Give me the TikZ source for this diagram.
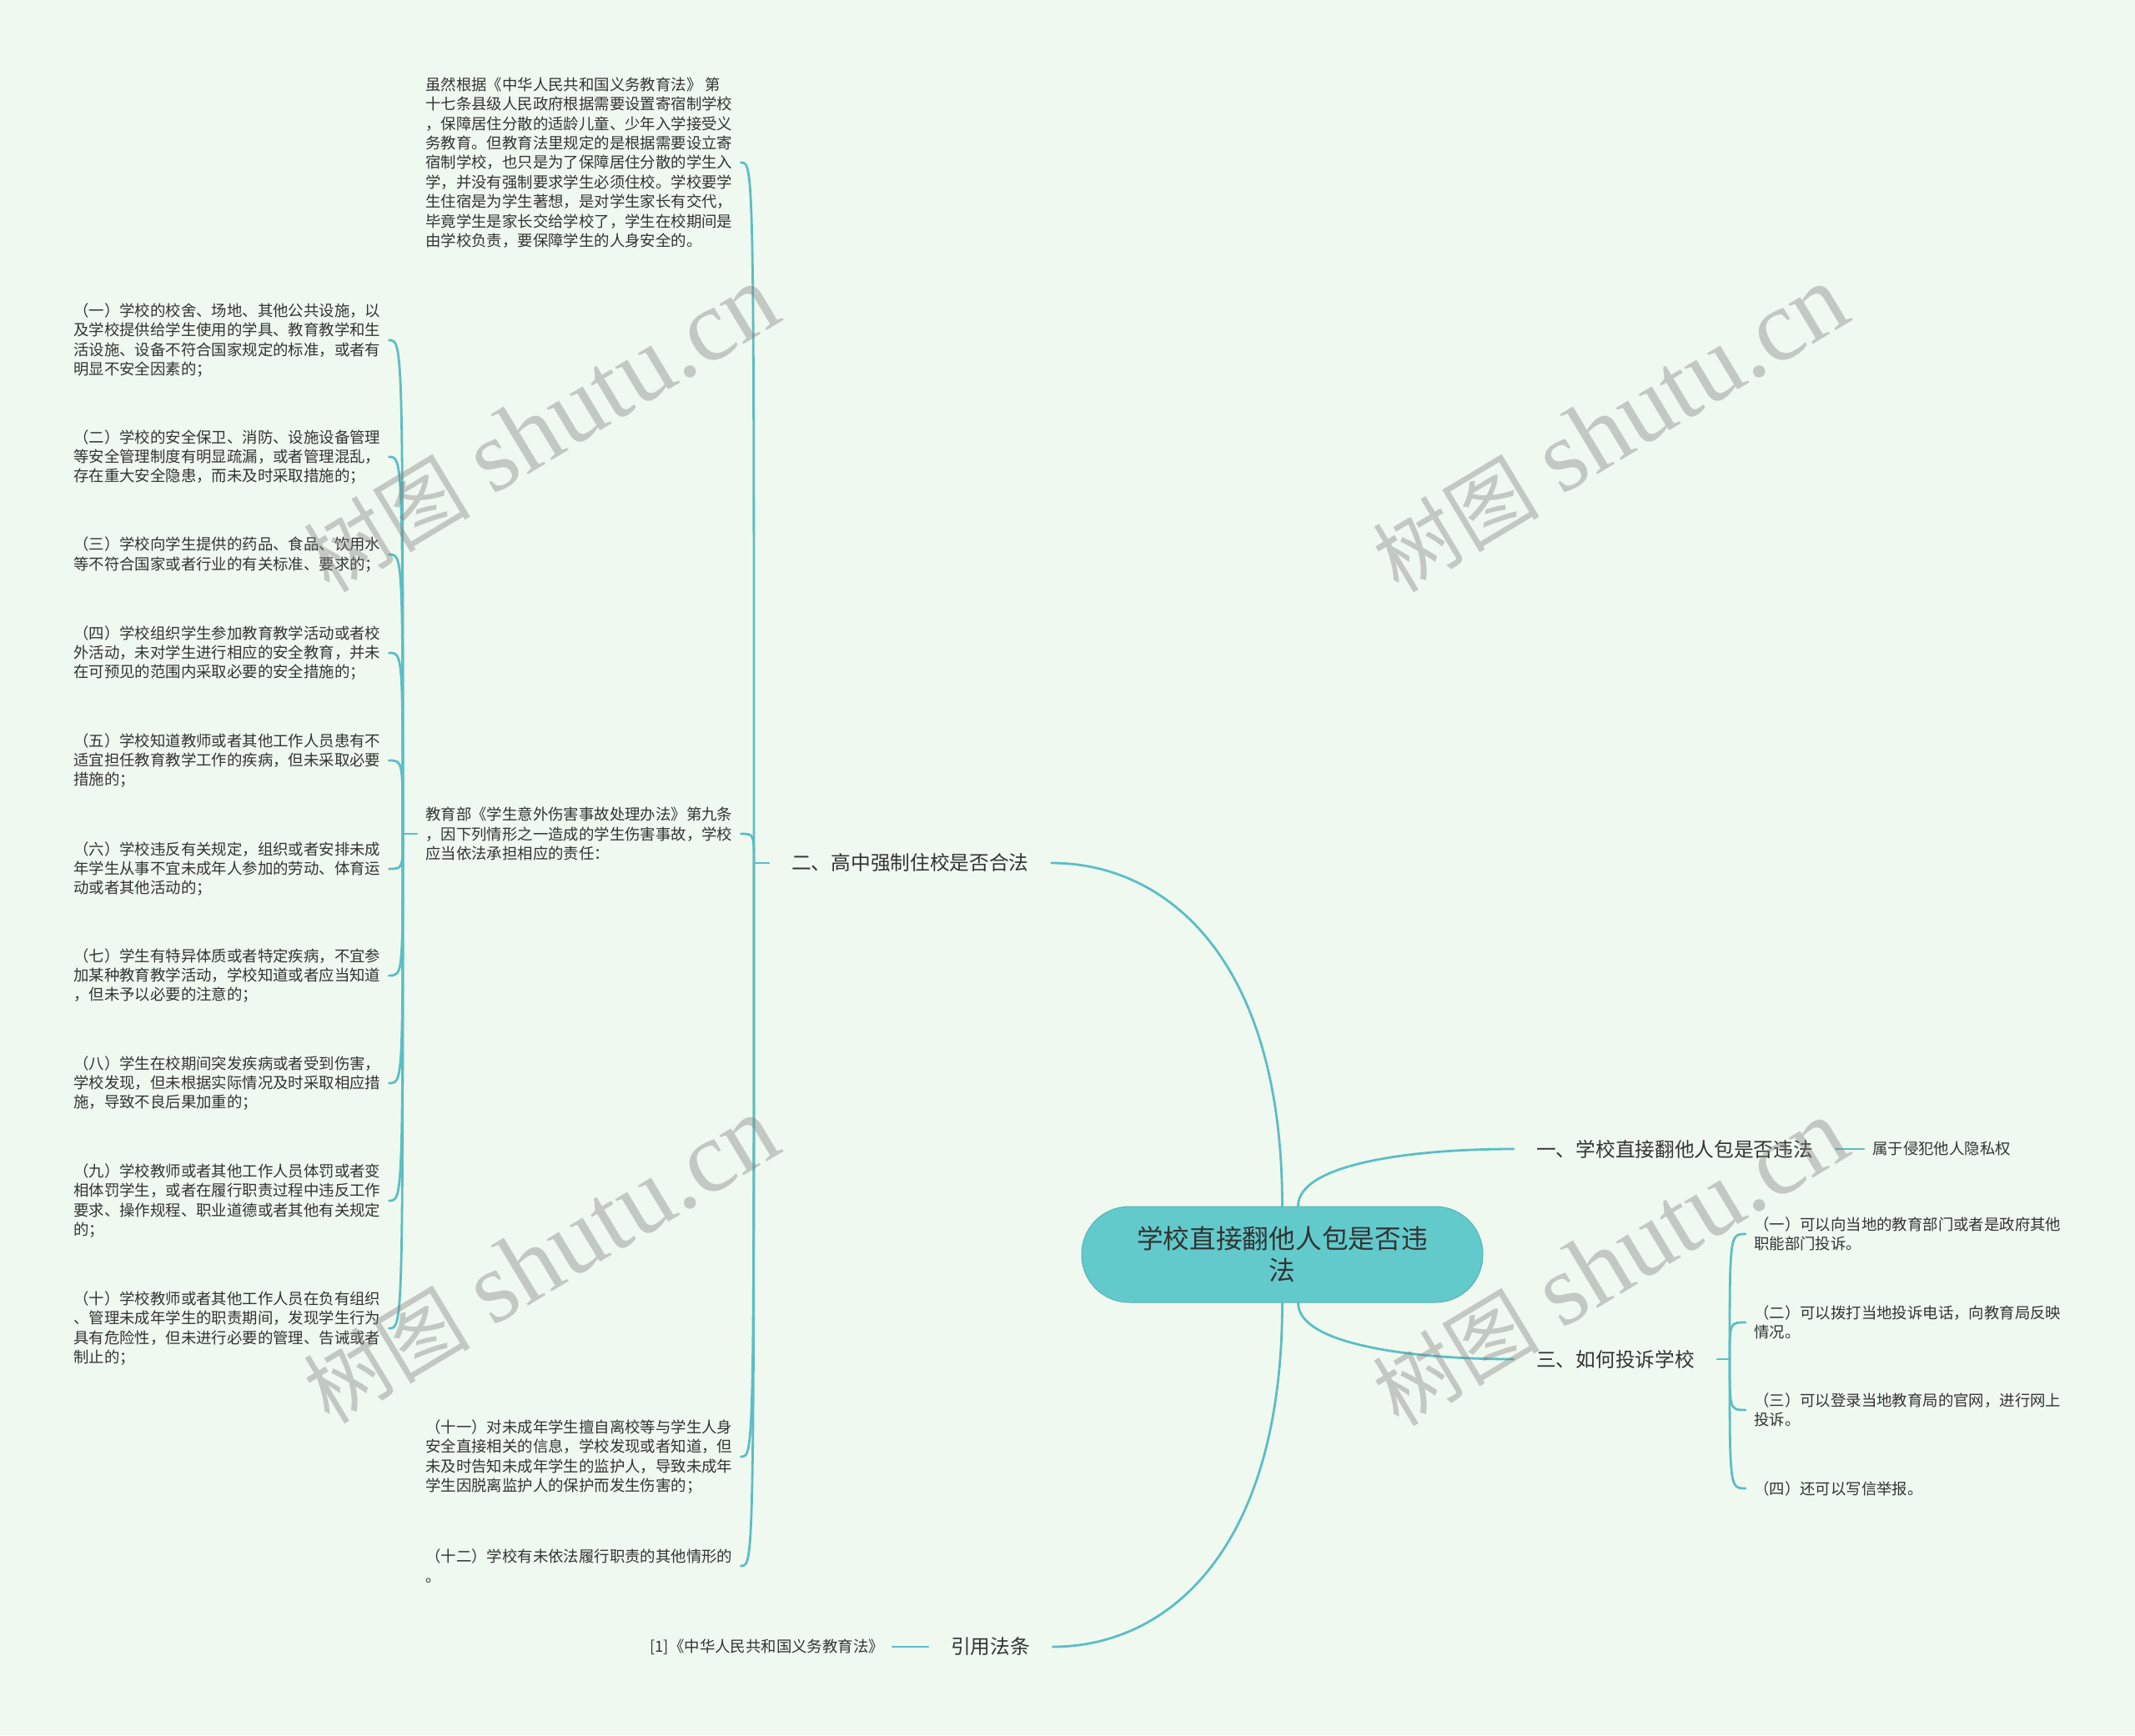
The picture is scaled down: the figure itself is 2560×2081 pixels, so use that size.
\documentclass[tikz,border=0pt]{standalone}
\usepackage{fontspec}
\setmainfont{Noto Sans CJK SC}
\newfontfamily\wmfont{Liberation Serif}
\usetikzlibrary{calc}
\definecolor{bgc}{RGB}{240,249,240}
\definecolor{lnc}{RGB}{91,190,196}
\definecolor{rootc}{RGB}{99,202,204}
\definecolor{txc}{RGB}{51,51,51}
\newcommand{\wmtext}{{\fontsize{100pt}{100pt}\selectfont 树图}\hspace{28pt}{\wmfont\fontsize{122pt}{122pt}\selectfont shutu.cn}}
\begin{document}
\begin{tikzpicture}[x=1pt,y=-1pt,
  conn/.style={draw=lnc,line width=2.8pt,line cap=round},
  curveto/.style={to path={.. controls ($(\tikztostart)!0.72!(\tikztostart|-\tikztotarget)$) and ($(\tikztotarget)!0.5!(\tikztotarget-|\tikztostart)$) .. (\tikztotarget)}},
  brk/.style={to path={.. controls (\tikztostart|-\tikztotarget) .. (\tikztotarget)}},
  leaf/.style={inner xsep=10pt,inner ysep=0pt,align=left,text=txc,font=\fontsize{18.4pt}{23.4pt}\selectfont},
  branch/.style={inner xsep=27pt,inner ysep=4pt,text=txc,font=\fontsize{23.7pt}{28pt}\selectfont},
  rootbox/.style={rectangle,rounded corners=57pt,minimum width=481pt,minimum height=115pt,fill=rootc,draw=rootc!88!black,line width=1pt,align=center,text=txc,font=\fontsize{31.7pt}{38pt}\selectfont},
  wm/.style={rotate=31,text=black!50,text opacity=0.4}
]
\fill[bgc] (0,0) rectangle (2560,2081);
\useasboundingbox (0,0) rectangle (2560,2081);

% root
\node[rootbox] (root) at (1537.5,1504.5) {学校直接翻他人包是否违\\法};

% branches
\node[branch,anchor=west] (b2) at (922,1035) {二、高中强制住校是否合法};
\node[branch,anchor=west] (b1) at (1815,1378) {一、学校直接翻他人包是否违法};
\node[branch,anchor=west] (b3) at (1815,1630) {三、如何投诉学校};
\node[branch,anchor=west] (b4) at (1113,1975) {引用法条};

% leaves of 一 and 引用法条
\node[leaf,anchor=west] (l1) at (2235,1378) {属于侵犯他人隐私权};
\node[leaf,anchor=east] (ref) at (1070,1975) {[1]《中华人民共和国义务教育法》};

% children of 二
\node[leaf,anchor=west] (p1) at (500,195) {虽然根据《中华人民共和国义务教育法》 第\\十七条县级人民政府根据需要设置寄宿制学校\\，保障居住分散的适龄儿童、少年入学接受义\\务教育。但教育法里规定的是根据需要设立寄\\宿制学校，也只是为了保障居住分散的学生入\\学，并没有强制要求学生必须住校。学校要学\\生住宿是为学生著想，是对学生家长有交代，\\毕竟学生是家长交给学校了，学生在校期间是\\由学校负责，要保障学生的人身安全的。};
\node[leaf,anchor=west] (p2) at (500,1000) {教育部《学生意外伤害事故处理办法》第九条\\，因下列情形之一造成的学生伤害事故，学校\\应当依法承担相应的责任：};
\node[leaf,anchor=west] (p11) at (500,1747) {（十一）对未成年学生擅自离校等与学生人身\\安全直接相关的信息，学校发现或者知道，但\\未及时告知未成年学生的监护人，导致未成年\\学生因脱离监护人的保护而发生伤害的；};
\node[leaf,anchor=west] (p12) at (500,1878) {（十二）学校有未依法履行职责的其他情形的\\。};

% children of p2
\node[leaf,anchor=west] (c1) at (78,408) {（一）学校的校舍、场地、其他公共设施，以\\及学校提供给学生使用的学具、教育教学和生\\活设施、设备不符合国家规定的标准，或者有\\明显不安全因素的；};
\node[leaf,anchor=west] (c2) at (78,548) {（二）学校的安全保卫、消防、设施设备管理\\等安全管理制度有明显疏漏，或者管理混乱，\\存在重大安全隐患，而未及时采取措施的；};
\node[leaf,anchor=west] (c3) at (78,665) {（三）学校向学生提供的药品、食品、饮用水\\等不符合国家或者行业的有关标准、要求的；};
\node[leaf,anchor=west] (c4) at (78,783) {（四）学校组织学生参加教育教学活动或者校\\外活动，未对学生进行相应的安全教育，并未\\在可预见的范围内采取必要的安全措施的；};
\node[leaf,anchor=west] (c5) at (78,912) {（五）学校知道教师或者其他工作人员患有不\\适宜担任教育教学工作的疾病，但未采取必要\\措施的；};
\node[leaf,anchor=west] (c6) at (78,1042) {（六）学校违反有关规定，组织或者安排未成\\年学生从事不宜未成年人参加的劳动、体育运\\动或者其他活动的；};
\node[leaf,anchor=west] (c7) at (78,1170) {（七）学生有特异体质或者特定疾病，不宜参\\加某种教育教学活动，学校知道或者应当知道\\，但未予以必要的注意的；};
\node[leaf,anchor=west] (c8) at (78,1299) {（八）学生在校期间突发疾病或者受到伤害，\\学校发现，但未根据实际情况及时采取相应措\\施，导致不良后果加重的；};
\node[leaf,anchor=west] (c9) at (78,1440) {（九）学校教师或者其他工作人员体罚或者变\\相体罚学生，或者在履行职责过程中违反工作\\要求、操作规程、职业道德或者其他有关规定\\的；};
\node[leaf,anchor=west] (c10) at (78,1593) {（十）学校教师或者其他工作人员在负有组织\\、管理未成年学生的职责期间，发现学生行为\\具有危险性，但未进行必要的管理、告诫或者\\制止的；};

% children of 三
\node[leaf,anchor=west] (d1) at (2093,1480) {（一）可以向当地的教育部门或者是政府其他\\职能部门投诉。};
\node[leaf,anchor=west] (d2) at (2093,1586) {（二）可以拨打当地投诉电话，向教育局反映\\情况。};
\node[leaf,anchor=west] (d3) at (2093,1691) {（三）可以登录当地教育局的官网，进行网上\\投诉。};
\node[leaf,anchor=west] (d4) at (2093,1785) {（四）还可以写信举报。};

% root connectors
\coordinate (rtn) at ([xshift=19pt]root.north);
\coordinate (rts) at ([xshift=19pt]root.south);
\draw[conn] (root.north) to[curveto] (b2.east);
\draw[conn] (rtn) to[curveto] (b1.west);
\draw[conn] (rts) to[curveto] (b3.west);
\draw[conn] (root.south) to[curveto] (b4.east);

% simple stubs
\draw[conn] (b1.east) -- (l1.west);
\draw[conn] (b4.west) -- (ref.east);

% brackets of 二
\draw[conn] (b2.west) -- ++(-18,0) coordinate (b2s);
\foreach \n in {p1,p2,p11,p12} \draw[conn] (b2s) to[brk] (\n.east);

% brackets of p2
\draw[conn] (p2.west) -- ++(-17,0) coordinate (p2s);
\foreach \n in {c1,c2,c3,c4,c5,c6,c7,c8,c9,c10} \draw[conn] (p2s) to[brk] (\n.east);

% brackets of 三
\draw[conn] (b3.east) -- ++(15,0) coordinate (b3s);
\foreach \n in {d1,d2,d3,d4} \draw[conn] (b3s) to[brk] (\n.west);

% watermarks
\node[wm] (w1) at (649,515) {\wmtext};
\node[wm] (w2) at (1931,515) {\wmtext};
\node[wm] (w3) at (649,1512) {\wmtext};
\node[wm] (w4) at (1931,1515) {\wmtext};
\end{tikzpicture}
\end{document}
